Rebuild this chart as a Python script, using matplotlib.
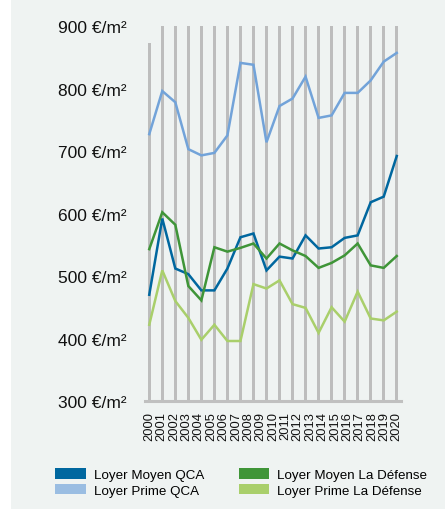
import matplotlib
matplotlib.use("Agg")
import matplotlib.pyplot as plt
from matplotlib.patches import Patch, Rectangle
import numpy as np

plt.rcParams['font.family'] = ['Liberation Sans', 'DejaVu Sans']

# tick labels (21 years, data sits on 20 slots like in the source chart)
years = [str(y) for y in range(2000, 2021)]

# values in EUR/m2
moyen_qca = [470, 592, 512, 503, 477, 477, 512, 562, 568, 509, 531, 528, 565, 544, 546, 561, 565, 618, 627, 692]
prime_qca = [727, 796, 778, 703, 693, 697, 725, 841, 838, 714, 772, 784, 819, 753, 757, 793, 793, 813, 843, 857]
moyen_ld = [543, 602, 582, 484, 461, 546, 539, 545, 552, 528, 552, 541, 532, 513, 521, 533, 552, 517, 513, 532]
prime_ld = [422, 509, 460, 433, 398, 422, 396, 396, 487, 480, 493, 455, 449, 409, 450, 427, 475, 432, 429, 443]

# grey background columns
column_tops = [873] + [900] * 19

series = [
    ("Loyer Moyen QCA", moyen_qca, "#00679f", "#00679f"),
    ("Loyer Prime QCA", prime_qca, "#72a3d9", "#9abde2"),
    ("Loyer Moyen La Défense", moyen_ld, "#3f9538", "#3f9538"),
    ("Loyer Prime La Défense", prime_ld, "#a9cf6b", "#a9cf6b"),
]

W, H = 445, 510
fig = plt.figure(figsize=(W / 100, H / 100), dpi=100, facecolor="white")
fig.patches.append(Rectangle((11 / W, 0), 1 - 11 / W, 1, transform=fig.transFigure,
                             facecolor="#eff3f2", edgecolor="none", zorder=-10))

ax = fig.add_axes([144.7 / W, (H - 402) / H, 256.6 / W, 378.1 / H])
ax.set_facecolor("none")

x = np.arange(len(moyen_qca))
ax.bar(x, np.array(column_tops) - 300, bottom=300, width=0.2, color="#bdbdbd", zorder=1)

for label, vals, color, _ in series:
    ax.plot(x, vals, color=color, lw=1.8, zorder=3, solid_joinstyle="miter")

ax.set_xlim(-0.35, 19.35)
ax.set_ylim(300, 905)

ax.set_yticks([300, 400, 500, 600, 700, 800, 900])
ax.set_yticklabels([f"{v} €/m²" for v in range(300, 1000, 100)], fontsize=12.5, color="#111111")
ax.tick_params(axis="y", length=0, pad=13)

ax.set_xticks(np.linspace(0, 19, len(years)))
ax.set_xticklabels(years, rotation=90, fontsize=9.3, color="#111111")
ax.tick_params(axis="x", length=0, pad=7)

for s in ["top", "right", "left"]:
    ax.spines[s].set_visible(False)
ax.spines["bottom"].set_color("#c0c0c0")
ax.spines["bottom"].set_linewidth(2.2)

handles = [Patch(facecolor=pc, edgecolor="none", label=lab) for lab, _, _, pc in series]
fig.legend(handles=handles, ncol=2, loc="upper left", bbox_to_anchor=(55 / W, 1 - 469 / H),
           frameon=False, fontsize=9.6, borderpad=0, borderaxespad=0,
           handlelength=2.3, handleheight=0.85, handletextpad=0.6,
           columnspacing=2.6, labelspacing=0.2)

fig.savefig("out.png", dpi=100, facecolor="white")
